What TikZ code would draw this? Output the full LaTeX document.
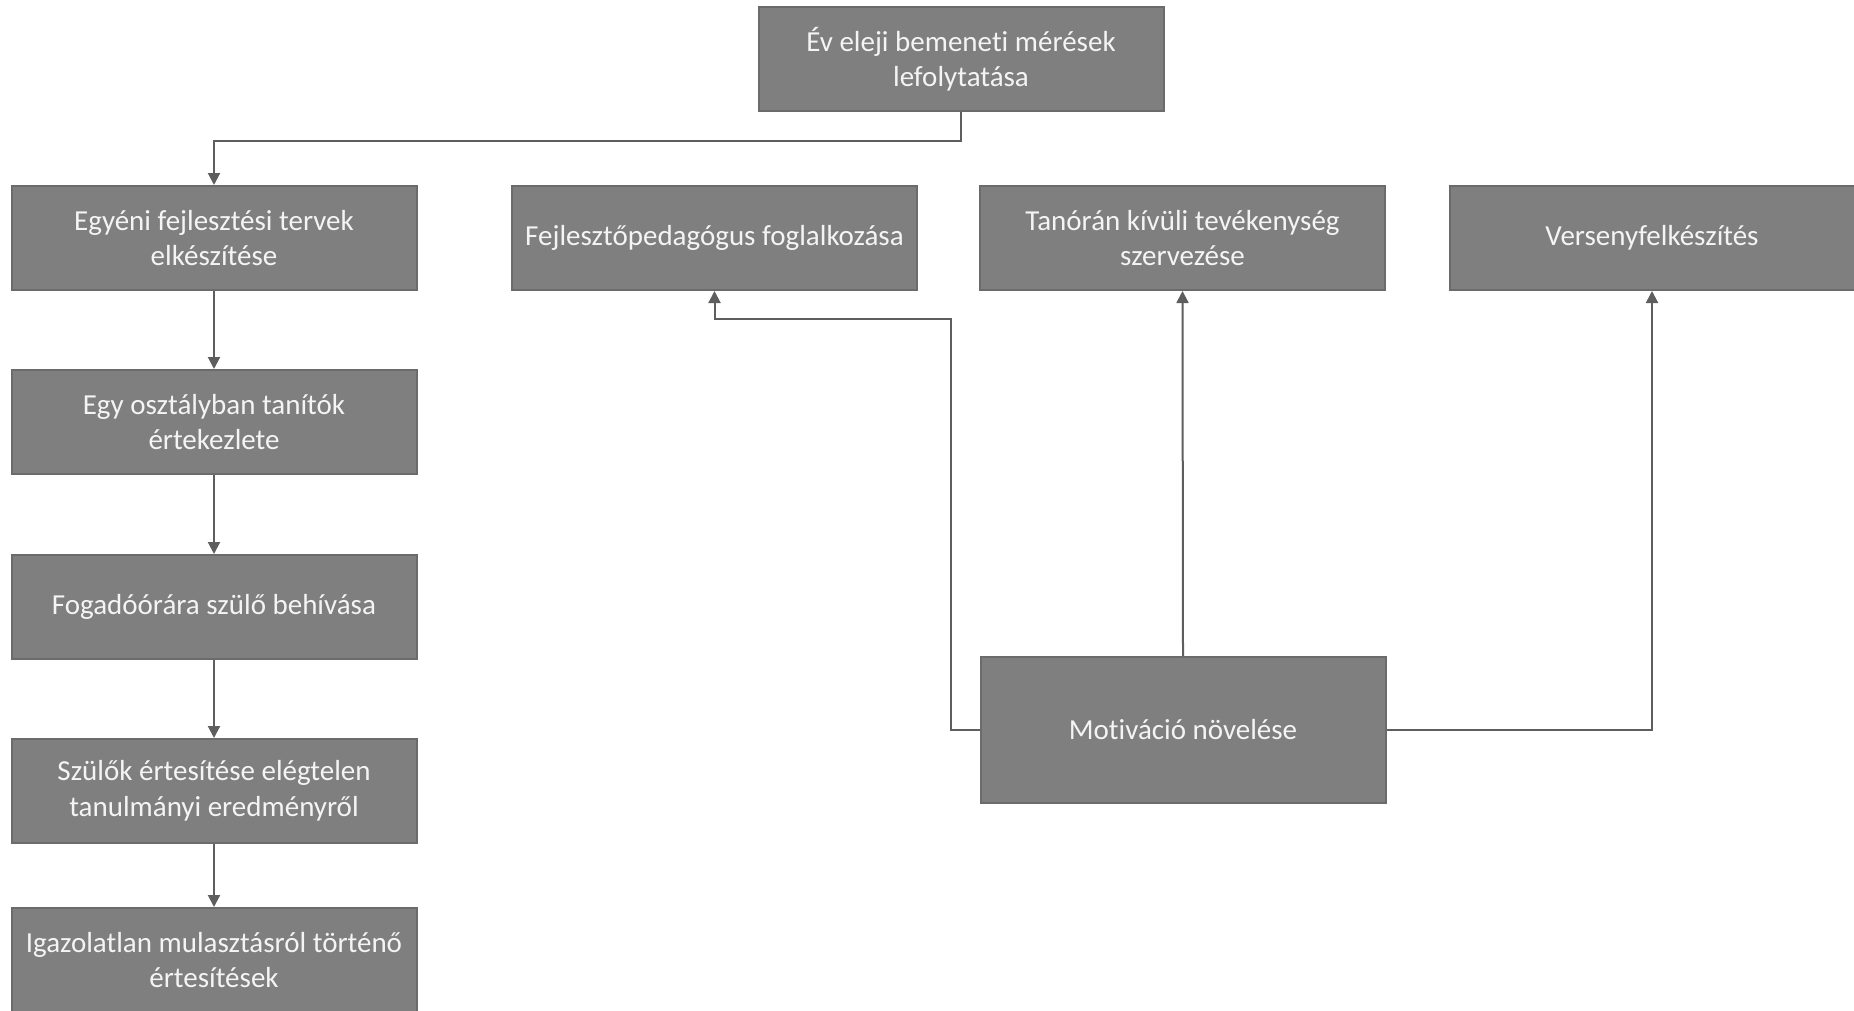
\documentclass[tikz,border=0pt]{standalone}
\usepackage{fontspec}
\setmainfont{Carlito}[Ligatures=NoCommon]
\usetikzlibrary{arrows.meta}
\definecolor{boxfill}{HTML}{7F7F7F}
\definecolor{boxedge}{HTML}{6B6B6B}
\definecolor{linkcol}{HTML}{5E5E5E}
\definecolor{txtcol}{HTML}{F4F4F4}
\begin{document}
\begin{tikzpicture}[x=1pt,y=-1pt,
  stepbox/.style={rectangle, draw=boxedge, line width=2pt, fill=boxfill,
    minimum width=405pt, minimum height=104pt, inner sep=0pt,
    text=txtcol, align=center, font=\fontsize{29}{35.5}\selectfont},
  link/.style={draw=linkcol, line width=2pt},
  arr/.style={link, -{Triangle[length=12pt,width=12pt]}}]
\useasboundingbox (0,0) rectangle (1854,1010);

% top measurement step
\node[stepbox] (ev) at (961,59) {Év eleji bemeneti mérések\\lefolytatása};

% left column
\node[stepbox] (egyeni) at (214,238) {Egyéni fejlesztési tervek\\elkészítése};
\node[stepbox] (osztaly) at (214,422) {Egy osztályban tanítók\\értekezlete};
\node[stepbox] (fogado) at (214,607) {Fogadóórára szülő behívása};
\node[stepbox] (szulok) at (214,791) {Szülők értesítése elégtelen\\tanulmányi eredményről};
\node[stepbox] (igazol) at (214,960) {Igazolatlan mulasztásról történő\\értesítések};

% top row on the right
\node[stepbox] (fejl) at (714.5,238) {Fejlesztőpedagógus foglalkozása};
\node[stepbox] (tanoran) at (1182.5,238) {Tanórán kívüli tevékenység\\szervezése};
\node[stepbox] (verseny) at (1652,238) {Versenyfelkészítés};

% motivation
\node[stepbox, minimum height=146pt] (motiv) at (1183,730) {Motiváció növelése};

% connectors
\coordinate (t1) at (961,141);
\draw[arr] (ev.south) -- (t1) -| (egyeni.north);
\draw[arr] (egyeni) -- (osztaly);
\draw[arr] (osztaly) -- (fogado);
\draw[arr] (fogado) -- (szulok);
\draw[arr] (szulok) -- (igazol);

\coordinate (m1) at (951,730);
\coordinate (m2) at (951,319);
\draw[arr] (motiv.west) -- (m1) -- (m2) -| (fejl.south);
\draw[arr] (motiv.north) -- (tanoran.south);
\draw[arr] (motiv.east) -| (verseny.south);
\end{tikzpicture}
\end{document}
